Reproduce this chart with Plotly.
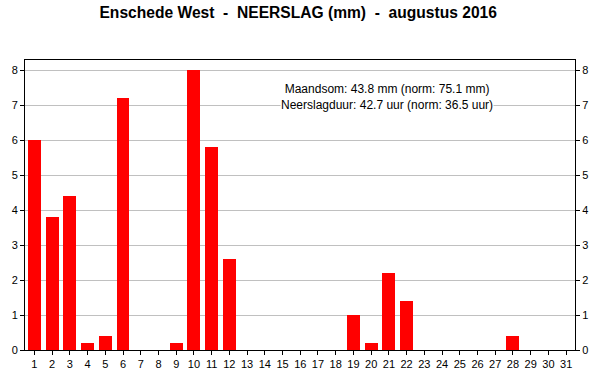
import plotly.graph_objects as go

days = list(range(1, 32))
rain_mm = [6.0, 3.8, 4.4, 0.2, 0.4, 7.2, 0, 0, 0.2, 8.0, 5.8, 2.6, 0, 0, 0, 0, 0, 0,
           1.0, 0.2, 2.2, 1.4, 0, 0, 0, 0, 0, 0.4, 0, 0, 0]
y_ticks = [0, 1, 2, 3, 4, 5, 6, 7, 8]
title_text = "Enschede West  -  NEERSLAG (mm)  -  augustus 2016"
info_lines = ["Maandsom: 43.8 mm (norm: 75.1 mm)", "Neerslagduur: 42.7 uur (norm: 36.5 uur)"]

fig = go.Figure()
fig.add_trace(go.Bar(x=days, y=rain_mm, width=0.73, marker=dict(color="#ff0000", line=dict(width=0)),
                     showlegend=False))
# invisible trace for right axis
fig.add_trace(go.Scatter(x=[days[0]], y=[0], yaxis="y2", mode="markers",
                         marker=dict(opacity=0), showlegend=False, hoverinfo="skip"))

font = "Liberation Sans, Arial, sans-serif"
axis_common = dict(range=[0, 8.29], tickvals=y_ticks, ticks="outside", ticklen=4,
                   tickcolor="black", tickfont=dict(family=font, size=11, color="black"),
                   showline=True, linecolor="black", linewidth=1, zeroline=False)
fig.update_layout(
    width=600, height=390,
    margin=dict(l=25, r=25, t=60, b=40),
    paper_bgcolor="white", plot_bgcolor="white",
    title=dict(text="<b>" + title_text + "</b>", x=0.497, xanchor="center", y=0.968, yanchor="middle",
               font=dict(family=font, size=15.6, color="black")),
    xaxis=dict(range=[0.47, 31.5], tickvals=days, ticks="outside", ticklen=4, tickcolor="black",
               tickfont=dict(family=font, size=11, color="black"), showline=True, linecolor="black",
               linewidth=1, mirror=True, showgrid=False, zeroline=False),
    yaxis=dict(**axis_common, showgrid=True, gridcolor="#c0c0c0", gridwidth=1),
    yaxis2=dict(**axis_common, overlaying="y", side="right", showgrid=False),
    bargap=0,
)
fig.add_annotation(x=0.658, y=0.874, xref="paper", yref="paper", xanchor="center", yanchor="middle",
                   text="<br>".join(info_lines), showarrow=False, align="center",
                   bgcolor="white", borderpad=0,
                   font=dict(family=font, size=12, color="black"))
fig.write_html("out.html", config={"displayModeBar": False},
               post_script="document.body.style.margin='0';")
